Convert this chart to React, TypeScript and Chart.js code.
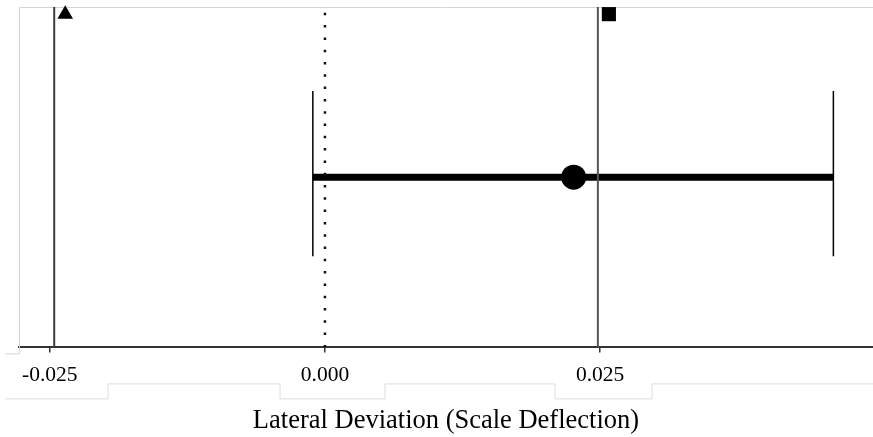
import React, { useEffect, useRef } from "react";
import { Chart, registerables } from "chart.js";

Chart.register(...registerables);

// ---- data (x values in scale-deflection units) ----
const tickValues = [-0.025, 0.0, 0.025];
const tickLabels = ["-0.025", "0.000", "0.025"];
const xRange = [-0.0278, 0.0498];
const leftRefLine = -0.0246; // solid line, triangle marker
const rightRefLine = 0.0248; // solid line, square marker
const zeroLine = 0.0; // dotted
const estimate = [0.0226]; // circle
const ciLow = [-0.0011];
const ciHigh = [0.0462];
const triangleMarker = [-0.0236];
const squareMarker = [0.0258];
const axisTitle = "Lateral Deviation (Scale Deflection)";

const SERIF = "'Liberation Serif', 'Times New Roman', serif";

const framePlugin = {
  id: "frame",
  beforeDatasetsDraw(chart: any) {
    const { ctx, chartArea } = chart;
    const { left, top, right, bottom } = chartArea;
    ctx.save();
    ctx.strokeStyle = "#d4d4d4";
    ctx.lineWidth = 1;
    ctx.beginPath();
    ctx.moveTo(5, bottom + 6.5);
    ctx.lineTo(left + 0.5, bottom + 6.5);
    ctx.lineTo(left + 0.5, top + 0.5);
    ctx.lineTo(right, top + 0.5);
    ctx.stroke();
    // label box outlines below the axis
    const yHi = bottom + 36.5;
    const yLo = bottom + 51.5;
    ctx.strokeStyle = "#dcdcdc";
    ctx.beginPath();
    ctx.moveTo(5, yLo);
    const halfW = [58, 52, 48];
    const centers = [50, 333, 603];
    ctx.lineTo(centers[0] + halfW[0], yLo);
    ctx.lineTo(centers[0] + halfW[0], yHi);
    ctx.lineTo(centers[1] - halfW[1] - 1, yHi);
    ctx.lineTo(centers[1] - halfW[1] - 1, yLo);
    ctx.lineTo(centers[1] + halfW[1], yLo);
    ctx.lineTo(centers[1] + halfW[1], yHi);
    ctx.lineTo(centers[2] - halfW[2], yHi);
    ctx.lineTo(centers[2] - halfW[2], yLo);
    ctx.lineTo(centers[2] + halfW[2] + 1, yLo);
    ctx.lineTo(centers[2] + halfW[2] + 1, yHi);
    ctx.lineTo(chart.width, yHi);
    ctx.stroke();
    ctx.restore();
  },
};

export default function App() {
  const ref = useRef<HTMLCanvasElement | null>(null);
  useEffect(() => {
    document.body.style.margin = "0";
    const canvas = ref.current;
    if (!canvas) return;
    const line = (xv: number, color: string, width: number, dash: number[] = []) => ({
      type: "line" as const,
      data: [
        { x: xv, y: 0 },
        { x: xv, y: 1 },
      ],
      borderColor: color,
      borderWidth: width,
      borderDash: dash,
      pointRadius: 0,
      showLine: true,
      fill: false,
    });
    const chart = new Chart(canvas, {
      type: "scatter",
      data: {
        datasets: [
          line(leftRefLine, "#3c3c3c", 2),
          line(rightRefLine, "#555555", 2),
          line(zeroLine, "#111111", 2.5, [2.5, 9.8]),
          {
            type: "line",
            data: [
              { x: ciLow[0], y: 0.5 },
              { x: ciHigh[0], y: 0.5 },
            ],
            borderColor: "#000",
            borderWidth: 7,
            pointRadius: 0,
            showLine: true,
          },
          {
            type: "line",
            data: [
              { x: ciLow[0], y: 0.268 },
              { x: ciLow[0], y: 0.753 },
            ],
            borderColor: "#000",
            borderWidth: 1.5,
            pointRadius: 0,
            showLine: true,
          },
          {
            type: "line",
            data: [
              { x: ciHigh[0], y: 0.268 },
              { x: ciHigh[0], y: 0.753 },
            ],
            borderColor: "#000",
            borderWidth: 1.5,
            pointRadius: 0,
            showLine: true,
          },
          {
            data: estimate.map((v) => ({ x: v, y: 0.5 })),
            pointStyle: "circle",
            pointRadius: 12.5,
            backgroundColor: "#000",
            borderColor: "#000",
            borderWidth: 0,
          },
          {
            data: triangleMarker.map((v) => ({ x: v, y: 0.979 })),
            pointStyle: "triangle",
            pointRadius: 9,
            backgroundColor: "#000",
            borderColor: "#000",
            borderWidth: 0,
            clip: false,
          },
          {
            data: squareMarker.map((v) => ({ x: v, y: 0.979 })),
            pointStyle: "rect",
            pointRadius: 10,
            backgroundColor: "#000",
            borderColor: "#000",
            borderWidth: 0,
            clip: false,
          },
        ] as any,
      },
      options: {
        animation: false,
        responsive: true,
        maintainAspectRatio: false,
        layout: { autoPadding: false, padding: { left: 19, top: 7, right: 0, bottom: 0 } },
        plugins: {
          legend: { display: false },
          tooltip: { enabled: false },
          title: { display: false },
        },
        scales: {
          x: {
            type: "linear",
            min: xRange[0],
            max: xRange[1],
            afterBuildTicks: (axis: any) => {
              axis.ticks = tickValues.map((v) => ({ value: v }));
            },
            grid: {
              drawOnChartArea: false,
              drawTicks: true,
              tickLength: 5,
              color: "#333",
              lineWidth: 1.5,
            },
            border: { display: true, color: "#333", width: 2 },
            ticks: {
              autoSkip: false,
              maxRotation: 0,
              padding: 10.5,
              color: "#000",
              font: { family: SERIF, size: 21.5 },
              callback: (v: any) => {
                const i = tickValues.indexOf(Number(v));
                return i >= 0 ? tickLabels[i] : "";
              },
            },
            title: {
              display: true,
              text: axisTitle,
              color: "#000",
              font: { family: SERIF, size: 26.5 },
              padding: { top: 6, bottom: 0 },
            },
          },
          y: { display: false, min: 0, max: 1 },
        },
      },
      plugins: [framePlugin],
    });
    return () => chart.destroy();
  }, []);
  return (
    <div style={{ width: 873, height: 437, position: "relative", background: "#fff" }}>
      <canvas ref={ref} />
    </div>
  );
}
